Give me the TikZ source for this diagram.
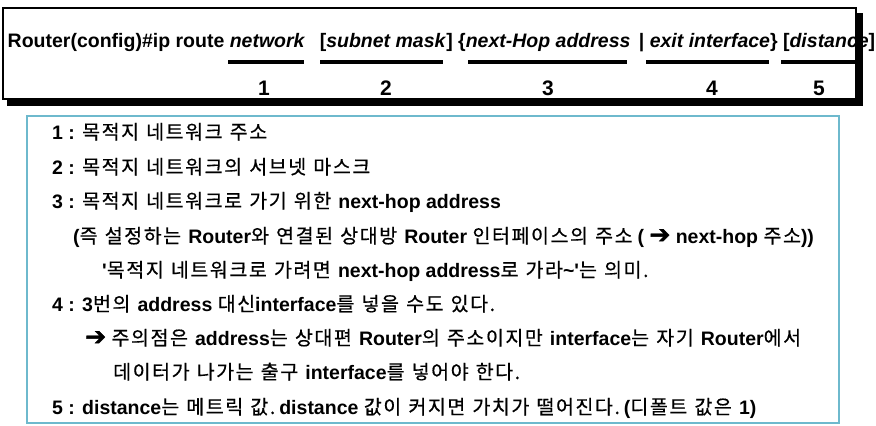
\documentclass[tikz,border=0pt]{standalone}
\usepackage{fontspec}
\setmainfont{Liberation Sans}
\newfontfamily\kr{Noto Sans CJK KR}[WordSpace=1.2, LetterSpace=8, FakeBold=0.6]
\newfontfamily\dv{DejaVu Sans}[FakeBold=1.5]
\newcommand\K[1]{{\kr\mdseries #1}}
\newcommand\arr{{\dv\bfseries\fontsize{25bp}{23bp}\selectfont ➔}}
\definecolor{boxline}{RGB}{110,185,205}
\tikzset{
  txt/.style={anchor=base west, inner sep=0pt, font=\fontsize{19.5bp}{23bp}\selectfont\bfseries},
  num/.style={anchor=base, inner sep=0pt, font=\fontsize{21bp}{23bp}\selectfont\bfseries},
  uline/.style={line width=3.5bp},
}
\begin{document}
\begin{tikzpicture}[x=1bp,y=-1bp]
\useasboundingbox (0,0) rectangle (876,425);
% top box with shadow
\fill[black] (7,13) rectangle (863,106);
\draw[line width=1.5bp, fill=white] (3,8) rectangle (856,99);
\node[txt] (cmd) at (7.5,47) {Router(config)\#ip route \textit{network}\hspace{9bp} [\textit{subnet mask}] \{\textit{next-Hop address}\hspace{3bp} | \textit{exit interface}\} [\textit{distance}]};
\draw[uline] (228,62) -- (304,62);
\draw[uline] (320,62) -- (443,62);
\draw[uline] (468,62) -- (627,62);
\draw[uline] (646,62) -- (769,62);
\draw[uline] (781,62) -- (856,62);
\node[num] (n1) at (264,95) {1};
\node[num] (n2) at (386,95) {2};
\node[num] (n3) at (548,95) {3};
\node[num] (n4) at (712,95) {4};
\node[num] (n5) at (819,95) {5};
% bottom box
\draw[boxline, line width=1.5bp] (27,116) rectangle (839,423);
\node[txt] (l1) at (52,139) {1 : \K{목적지 네트워크 주소}};
\node[txt] (l2) at (52,174) {2 : \K{목적지 네트워크의 서브넷 마스크}};
\node[txt] (l3) at (52,208) {3 : \K{목적지 네트워크로 가기 위한 }next-hop address};
\node[txt] (l4) at (73,243) {(\K{즉 설정하는 }Router\K{와 연결된 상대방 }Router \K{인터페이스의 주소}\hspace{5bp}( \arr{} next-hop \K{주소}))};
\node[txt] (l5) at (102,277) {\textquotesingle\K{목적지 네트워크로 가려면 }next-hop address\K{로 가라}\textasciitilde\textquotesingle\K{는 의미.}};
\node[txt] (l6) at (52,311) {4 : 3\K{번의 }address \K{대신}interface\K{를 넣을 수도 있다.}};
\node[txt] (l7) at (85,345) {\arr{} \K{주의점은 }address\K{는 상대편 }Router\K{의 주소이지만 }interface\K{는 자기 }Router\K{에서}};
\node[txt] (l8) at (113,379) {\K{데이터가 나가는 출구 }interface\K{를 넣어야 한다.}};
\node[txt] (l9) at (52,414) {5 : distance\K{는 메트릭 값.}\hspace{4bp}distance \K{값이 커지면 가치가 떨어진다.}\hspace{4bp}(\K{디폴트 값은 }1)};
\end{tikzpicture}
\end{document}
